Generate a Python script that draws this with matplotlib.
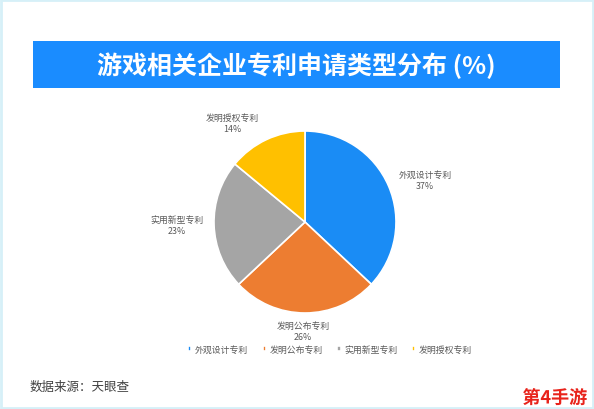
import matplotlib.pyplot as plt
from matplotlib.patches import Rectangle
import matplotlib.patheffects as pe

plt.rcParams['font.family'] = ['Noto Sans CJK SC', 'DejaVu Sans']

# data
categories = ["外观设计专利", "发明公布专利", "实用新型专利", "发明授权专利"]
shares = [37, 26, 23, 14]
colors = ["#1A8CF5", "#ED7D31", "#A5A5A5", "#FFC000"]
title = "游戏相关企业专利申请类型分布 (%)"
source = "数据来源：天眼查"

W, H = 594, 410
fig = plt.figure(figsize=(W / 100, H / 100), dpi=100)

# light frame around the picture
fig.patches.append(Rectangle((0.002, 0.003), 0.996, 0.994, transform=fig.transFigure,
                             fill=False, edgecolor="#D6F0F8", linewidth=2))

# title bar
fig.patches.append(Rectangle((33 / W, 1 - 89 / H), (560 - 33) / W, 47 / H,
                             transform=fig.transFigure, facecolor="#1A8CFF",
                             edgecolor="none"))
fig.text(296 / W, 1 - 66 / H, title, color="white", fontsize=18,
         fontweight="bold", ha="center", va="center")

# pie axes: centre (305, 223) px, radius 91 px
cx, cy, r = 305, 223, 91
ax = fig.add_axes([(cx - r) / W, 1 - (cy + r) / H, 2 * r / W, 2 * r / H])
wedges, _ = ax.pie(shares, colors=colors, startangle=90, counterclock=False,
                   radius=1, wedgeprops=dict(edgecolor="white", linewidth=1.2))
ax.set_xlim(-1, 1)
ax.set_ylim(-1, 1)
ax.set_aspect("equal")
ax.axis("off")

# label block centres in px (layout only)
label_px = [(425, 181), (303, 332), (177, 226), (232, 124)]
for name, val, (lx, ly) in zip(categories, shares, label_px):
    ax.text((lx - cx) / r, (cy - ly) / r, f"{name}\n{val}%", ha="center",
            va="center", fontsize=6.4, color="#595959", linespacing=1.25,
            clip_on=False)

leg = fig.legend(wedges, categories, loc="center", bbox_to_anchor=(330 / W, 1 - 350 / H),
                 ncol=4, frameon=False, fontsize=6.4, handlelength=0.4,
                 handleheight=0.4, handletextpad=0.4, columnspacing=1.6)
for t in leg.get_texts():
    t.set_color("#595959")

fig.text(30 / W, 1 - 387 / H, source, fontsize=9, color="#404040",
         ha="left", va="center")

# watermark
fig.text(587 / W, 1 - 399 / H, "第4手游", fontsize=13, fontweight="bold",
         color="#E8231B", ha="right", va="center",
         path_effects=[pe.withStroke(linewidth=2, foreground="white")])

fig.savefig("out.png", dpi=100)
